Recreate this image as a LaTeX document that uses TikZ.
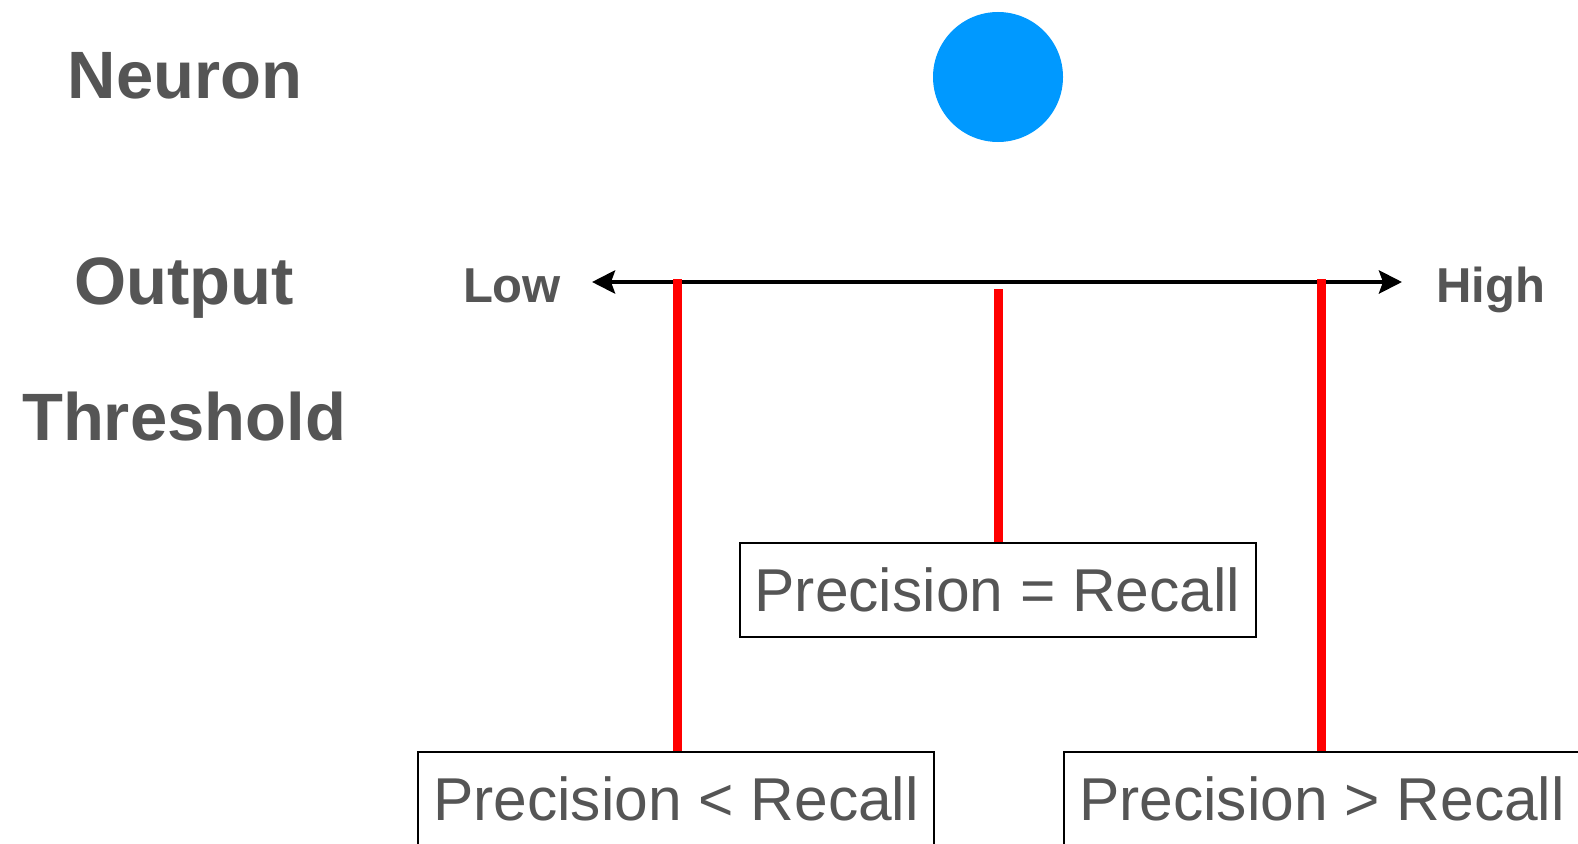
\documentclass[tikz,border=0pt]{standalone}
\usepackage{fontspec}
\setmainfont{Liberation Sans}
\usetikzlibrary{arrows.meta}
\definecolor{txtgray}{RGB}{85,85,85}
\definecolor{neuronblue}{RGB}{0,153,255}
\definecolor{threshred}{RGB}{255,0,0}
\tikzset{
  biglabel/.style={anchor=base, text=txtgray, font=\fontsize{67}{70}\selectfont\bfseries, inner sep=0pt},
  endlabel/.style={anchor=base, text=txtgray, font=\fontsize{49}{52}\selectfont\bfseries, inner sep=0pt},
  resultbox/.style={draw=black, line width=2pt, fill=white, text=txtgray,
    font=\fontsize{60.5}{63}\selectfont, minimum width=516pt, minimum height=94pt, inner sep=0pt},
  redline/.style={draw=threshred, line width=9pt},
  axis/.style={draw=black, line width=4.5pt, {Stealth[length=23pt,width=23pt,inset=4pt]}-{Stealth[length=23pt,width=23pt,inset=4pt]}}
}
\begin{document}
\begin{tikzpicture}[x=1pt,y=-1pt]
\path[use as bounding box, clip] (0,0) rectangle (1578,843);
\fill[white] (0,0) rectangle (1578,843);
% labels
\node[biglabel] (neuronlbl) at (185,98) {Neuron};
\node[biglabel] (outputlbl) at (184,304) {Output};
\node[biglabel] (threshlbl) at (184,440) {Threshold};
\node[endlabel] (low) at (512,302) {Low};
\node[endlabel] (high) at (1491,302) {High};
% neuron
\node[circle, fill=neuronblue, minimum size=130pt, inner sep=0pt] (neuron) at (998,77) {};
% axis
\coordinate (lowend) at (592,282);
\coordinate (highend) at (1402,282);
\draw[axis] (lowend) -- (highend);
% boxes
\node[resultbox] (eqbox) at (997.5,590) {Precision = Recall};
\node[resultbox] (ltbox) at (676,799) {Precision < Recall};
\node[resultbox] (gtbox) at (1322,799) {Precision > Recall};
% threshold lines
\coordinate (tleft) at (677,279);
\coordinate (tmid) at (998,289);
\coordinate (tright) at (1321,279);
\draw[redline] (tleft) -- (tleft |- ltbox.north);
\draw[redline] (tmid) -- (tmid |- eqbox.north);
\draw[redline] (tright) -- (tright |- gtbox.north);
\end{tikzpicture}
\end{document}
